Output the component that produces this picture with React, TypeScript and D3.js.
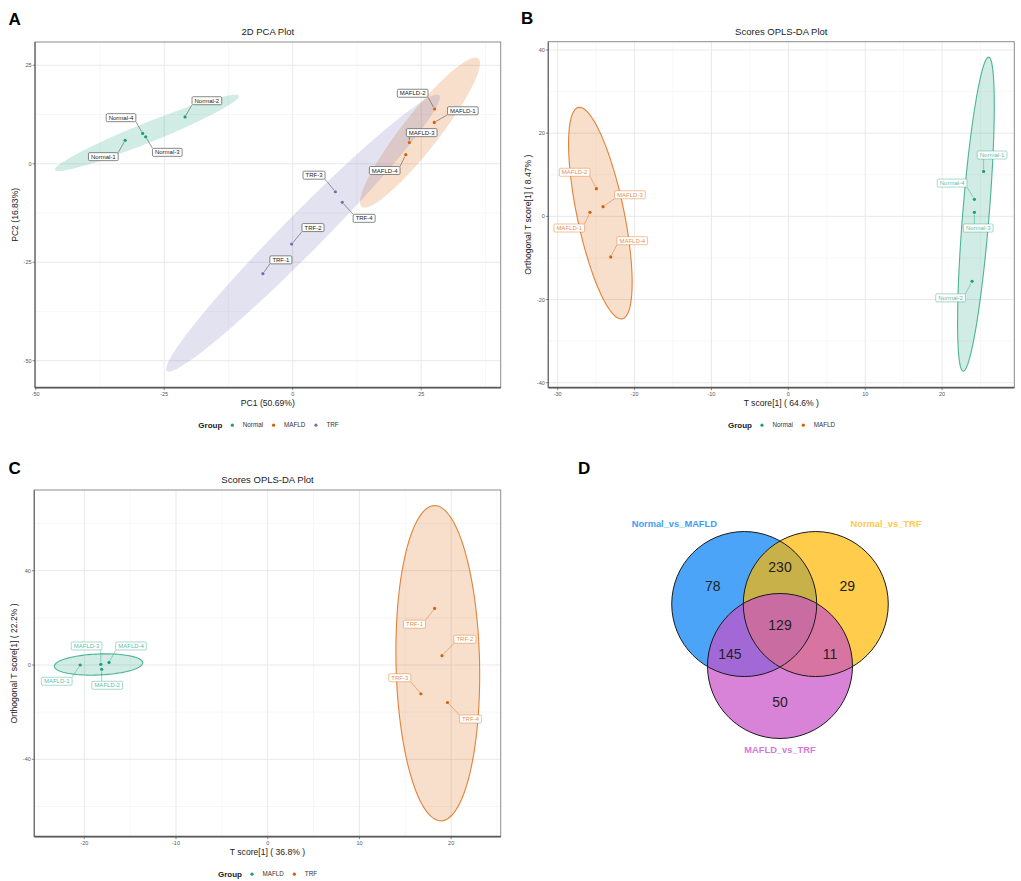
import React from "react";
import * as d3 from "d3";

const FONT = "'Liberation Sans', Arial, Helvetica, sans-serif";
const DARK2 = ["#1B9E77", "#D95F02", "#7570B3"];

// ---------------- Panel A : 2D PCA ----------------
const pcaGroups = ["Normal", "MAFLD", "TRF"];
const pcaSamples = ["Normal-1", "Normal-2", "Normal-3", "Normal-4", "MAFLD-1", "MAFLD-2", "MAFLD-3", "MAFLD-4", "TRF-1", "TRF-2", "TRF-3", "TRF-4"];
const pcaGroupOf = [0, 0, 0, 0, 1, 1, 1, 1, 2, 2, 2, 2];
const pcaPC1 = [-32.6, -20.95, -28.6, -29.2, 27.55, 27.6, 22.7, 22.0, -5.8, -0.2, 8.3, 9.65];
const pcaPC2 = [5.94, 11.9, 6.85, 7.7, 10.5, 13.9, 5.4, 2.3, -27.9, -20.4, -7.1, -9.8];
const pcaLabelX = [-36.85, -16.7, -24.4, -33.4, 33.1, 23.35, 25.1, 17.9, -2.3, 3.95, 4.15, 13.9];
const pcaLabelY = [1.8, 16.0, 2.9, 11.7, 13.45, 17.9, 7.9, -1.7, -24.4, -16.2, -2.9, -13.85];
const pcaEllCX = [-28.35, 24.77, 2.0];
const pcaEllCY = [7.84, 7.92, -17.6];
const pcaEllEX = [-10.45, 36.1, 28.5];
const pcaEllEY = [17.26, 26.75, 17.4];
const pcaEllRatio = [0.1, 0.194, 0.1];
const pcaXTicks = [-50, -25, 0, 25];
const pcaYTicks = [-50, -25, 0, 25];

// ---------------- Panel B : OPLS-DA Normal vs MAFLD ----------------
const oplsBGroups = ["Normal", "MAFLD"];
const oplsBSamples = ["Normal-1", "Normal-2", "Normal-3", "Normal-4", "MAFLD-1", "MAFLD-2", "MAFLD-3", "MAFLD-4"];
const oplsBGroupOf = [0, 0, 0, 0, 1, 1, 1, 1];
const oplsBT = [25.4, 23.9, 24.2, 24.2, -25.8, -24.97, -24.1, -23.1];
const oplsBO = [10.8, -15.6, 0.96, 4.09, 0.96, 6.66, 2.33, -9.76];
const oplsBLabelX = [26.5, 21.1, 24.7, 21.3, -28.5, -27.8, -20.6, -20.3];
const oplsBLabelY = [14.75, -19.6, -2.8, 8.0, -2.8, 10.6, 5.2, -5.85];
const oplsBEllCX = [24.4, -24.45];
const oplsBEllCY = [0.53, 0.77];
const oplsBEllEX = [26.06, -27.3];
const oplsBEllEY = [38.3, 26.2];
const oplsBEllRatio = [0.084, 0.218];
const oplsBXTicks = [-30, -20, -10, 0, 10, 20];
const oplsBYTicks = [-40, -20, 0, 20, 40];

// ---------------- Panel C : OPLS-DA MAFLD vs TRF ----------------
const oplsCGroups = ["MAFLD", "TRF"];
const oplsCSamples = ["MAFLD-1", "MAFLD-2", "MAFLD-3", "MAFLD-4", "TRF-1", "TRF-2", "TRF-3", "TRF-4"];
const oplsCGroupOf = [0, 0, 0, 0, 1, 1, 1, 1];
const oplsCT = [-20.45, -18.1, -18.2, -17.3, 18.2, 19.0, 16.7, 19.6];
const oplsCO = [0, -1.8, 0.3, 1.1, 24.0, 3.95, -12.2, -15.9];
const oplsCLabelX = [-23.0, -17.5, -19.75, -14.9, 16.0, 21.5, 14.4, 22.1];
const oplsCLabelY = [-6.9, -8.6, 8.06, 8.06, 17.3, 10.9, -5.4, -22.9];
const oplsCEllCX = [-18.45, 18.54];
const oplsCEllCY = [0.21, 0.76];
const oplsCEllEX = [-13.63, 18.17];
const oplsCEllEY = [0.98, 67.6];
const oplsCEllRatio = [0.238, 0.265];
const oplsCXTicks = [-20, -10, 0, 10, 20];
const oplsCYTicks = [-40, 0, 40];

// ---------------- Panel D : Venn ----------------
const vennSets = ["Normal_vs_MAFLD", "Normal_vs_TRF", "MAFLD_vs_TRF"];
const vennOnly = [78, 29, 50];
const vennPairs = [230, 145, 11]; // (0,1), (0,2), (1,2)
const vennAll = 129;

let _ctx: CanvasRenderingContext2D | null = null;
function measure(text: string, size: number, weight = "normal") {
  if (!_ctx) _ctx = document.createElement("canvas").getContext("2d");
  if (!_ctx) return text.length * size * 0.55;
  _ctx.font = `${weight} ${size}px ${FONT}`;
  return _ctx.measureText(text).width;
}

function minorTicks(ticks: number[], dom: number[]) {
  const step = ticks[1] - ticks[0];
  const out: number[] = [];
  for (let v = ticks[0] - step / 2; v <= dom[1]; v += step) if (v >= dom[0]) out.push(v);
  return out;
}

type Cfg = {
  box: [number, number, number, number];
  xDomain: [number, number];
  yDomain: [number, number];
  xTicks: number[];
  yTicks: number[];
  title: string;
  xTitle: string;
  yTitle: string;
  groups: string[];
  colors: string[];
  samples: string[];
  groupOf: number[];
  xs: number[];
  ys: number[];
  lx: number[];
  ly: number[];
  ell: { cx: number[]; cy: number[]; ex: number[]; ey: number[]; r: number[] };
  colored: boolean;
  legendX: number;
};

function ScorePlot({ c }: { c: Cfg }) {
  const [L, T, R, B] = c.box;
  const x = d3.scaleLinear().domain(c.xDomain).range([L, R]);
  const y = d3.scaleLinear().domain(c.yDomain).range([B, T]);
  const xMinor = minorTicks(c.xTicks, c.xDomain);
  const yMinor = minorTicks(c.yTicks, c.yDomain);
  const line = d3.line();

  const ellipses = c.ell.cx.map((_, g) => {
    const cx = x(c.ell.cx[g]), cy = y(c.ell.cy[g]);
    const ux = x(c.ell.ex[g]) - cx, uy = y(c.ell.ey[g]) - cy;
    const vx = -uy * c.ell.r[g], vy = ux * c.ell.r[g];
    const pts: [number, number][] = d3.range(0, 121).map((i) => {
      const t = (i / 120) * Math.PI * 2;
      return [cx + ux * Math.cos(t) + vx * Math.sin(t), cy + uy * Math.cos(t) + vy * Math.sin(t)];
    });
    return line(pts) + "Z";
  });

  const fs = 6;
  const labels = c.samples.map((s, i) => {
    const w = measure(s, fs) + 5;
    const h = 8;
    const bx = x(c.lx[i]) - w / 2, by = y(c.ly[i]) - h / 2;
    const px = x(c.xs[i]), py = y(c.ys[i]);
    const ex = Math.max(bx, Math.min(bx + w, px));
    const ey = Math.max(by, Math.min(by + h, py));
    const dx = ex - px, dy = ey - py;
    const d = Math.hypot(dx, dy);
    const sx = d > 0 ? px + (dx / d) * 2.2 : px;
    const sy = d > 0 ? py + (dy / d) * 2.2 : py;
    return { s, w, h, bx, by, px, py, ex, ey, sx, sy, d, g: c.groupOf[i] };
  });

  // legend layout
  const legY = B + 37.5;
  const legItems: { dot: number; tx: number; g: number }[] = [];
  let cur = c.legendX + measure("Group", 8, "bold") + 10;
  c.groups.forEach((g, i) => {
    legItems.push({ dot: cur, tx: cur + 10.5, g: i });
    cur = cur + 10.5 + measure(g, 6.3) + 10.5;
  });

  return (
    <g fontFamily={FONT}>
      <rect x={L} y={T} width={R - L} height={B - T} fill="#FFFFFF" />
      {xMinor.map((v) => (
        <line key={"xm" + v} x1={x(v)} x2={x(v)} y1={T} y2={B} stroke="#F2F2F2" strokeWidth={0.6} />
      ))}
      {yMinor.map((v) => (
        <line key={"ym" + v} x1={L} x2={R} y1={y(v)} y2={y(v)} stroke="#F2F2F2" strokeWidth={0.6} />
      ))}
      {c.xTicks.map((v) => (
        <line key={"xg" + v} x1={x(v)} x2={x(v)} y1={T} y2={B} stroke="#E6E6E6" strokeWidth={0.9} />
      ))}
      {c.yTicks.map((v) => (
        <line key={"yg" + v} x1={L} x2={R} y1={y(v)} y2={y(v)} stroke="#E6E6E6" strokeWidth={0.9} />
      ))}
      {ellipses.map((p, g) => (
        <path
          key={"e" + g}
          d={p}
          fill={c.colors[g]}
          fillOpacity={0.2}
          stroke={c.colored ? c.colors[g] : "none"}
          strokeOpacity={0.75}
          strokeWidth={1.1}
        />
      ))}
      {labels.map((l, i) =>
        l.d > 2.5 ? (
          <line
            key={"seg" + i}
            x1={l.sx}
            y1={l.sy}
            x2={l.ex}
            y2={l.ey}
            stroke={c.colored ? c.colors[l.g] : "#555555"}
            strokeOpacity={c.colored ? 0.7 : 1}
            strokeWidth={0.6}
          />
        ) : null
      )}
      {labels.map((l, i) => (
        <circle key={"pt" + i} cx={l.px} cy={l.py} r={1.6} fill={c.colors[l.g]} />
      ))}
      {labels.map((l, i) => (
        <g key={"lb" + i}>
          <rect
            x={l.bx}
            y={l.by}
            width={l.w}
            height={l.h}
            rx={1.2}
            fill="#FFFFFF"
            stroke={c.colored ? c.colors[l.g] : "#555555"}
            strokeOpacity={c.colored ? 0.55 : 1}
            strokeWidth={0.7}
          />
          <text
            x={l.bx + l.w / 2}
            y={l.by + l.h / 2 + 2.1}
            textAnchor="middle"
            fontSize={fs}
            fill={c.colored ? c.colors[l.g] : "#222222"}
            fillOpacity={c.colored ? 0.75 : 1}
          >
            {l.s}
          </text>
        </g>
      ))}
      {/* frame */}
      <rect x={L} y={T} width={R - L} height={B - T} fill="none" stroke="#8C8C8C" strokeWidth={1} />
      <line x1={L} x2={L} y1={T} y2={B} stroke="#6E6E6E" strokeWidth={1.3} />
      <line x1={L} x2={R} y1={B} y2={B} stroke="#5A5A5A" strokeWidth={1.7} />
      {/* ticks */}
      {c.xTicks.map((v) => (
        <g key={"xt" + v}>
          <line x1={x(v)} x2={x(v)} y1={B} y2={B + 2.5} stroke="#444" strokeWidth={0.6} />
          <text x={x(v)} y={B + 8} textAnchor="middle" fontSize={5.5} fill="#555555">
            {v}
          </text>
        </g>
      ))}
      {c.yTicks.map((v) => (
        <g key={"yt" + v}>
          <line x1={L - 2.5} x2={L} y1={y(v)} y2={y(v)} stroke="#444" strokeWidth={0.6} />
          <text x={L - 3.5} y={y(v) + 2} textAnchor="end" fontSize={5.5} fill="#555555">
            {v}
          </text>
        </g>
      ))}
      {/* titles */}
      <text x={(L + R) / 2} y={T - 7} textAnchor="middle" fontSize={9.5} fill="#222">
        {c.title}
      </text>
      <text x={(L + R) / 2} y={B + 18} textAnchor="middle" fontSize={8.6} fill="#222">
        {c.xTitle}
      </text>
      <text
        transform={`translate(${L - 17},${(T + B) / 2}) rotate(-90)`}
        textAnchor="middle"
        fontSize={8.6}
        fill="#222"
      >
        {c.yTitle}
      </text>
      {/* legend */}
      <text x={c.legendX} y={legY + 3} fontSize={8} fontWeight="bold" fill="#222">
        Group
      </text>
      {legItems.map((it) => (
        <g key={"lg" + it.g}>
          <circle cx={it.dot} cy={legY} r={1.6} fill={c.colors[it.g]} />
          <text x={it.tx} y={legY + 2.2} fontSize={6.3} fill="#333">
            {c.groups[it.g]}
          </text>
        </g>
      ))}
    </g>
  );
}

function Venn() {
  const cx = 780, cy = 624.7, d = 41.3, r = 72.5;
  const angles = [210, 330, 90].map((a) => (a * Math.PI) / 180);
  const centers = angles.map((a) => [cx + d * Math.cos(a), cy + d * Math.sin(a)]);
  const fills = ["#007EF5", "#FFB600", "#C74FC7"];
  const labelColors = ["#3E9DF6", "#FFC94A", "#D47AD6"];
  const pairIdx = [[0, 1], [0, 2], [1, 2]];
  const labelPos = [
    [674.3, 523.3],
    [886, 523.3],
    [780, 750],
  ];
  return (
    <g fontFamily={FONT}>
      {centers.map((c, i) => (
        <circle key={"f" + i} cx={c[0]} cy={c[1]} r={r} fill={fills[i]} fillOpacity={0.7} />
      ))}
      {centers.map((c, i) => (
        <circle key={"s" + i} cx={c[0]} cy={c[1]} r={r} fill="none" stroke="#1A1A1A" strokeWidth={1} />
      ))}
      {vennOnly.map((v, i) => (
        <text
          key={"o" + i}
          x={cx + 1.88 * d * Math.cos(angles[i])}
          y={cy + 1.88 * d * Math.sin(angles[i]) + 5}
          textAnchor="middle"
          fontSize={14}
          fill="#222"
        >
          {v}
        </text>
      ))}
      {vennPairs.map((v, k) => {
        const third = [0, 1, 2].find((j) => !pairIdx[k].includes(j)) as number;
        const a = angles[third] + Math.PI;
        return (
          <text
            key={"p" + k}
            x={cx + 1.4 * d * Math.cos(a)}
            y={cy + 1.4 * d * Math.sin(a) + 5}
            textAnchor="middle"
            fontSize={14}
            fill="#222"
          >
            {v}
          </text>
        );
      })}
      <text x={cx} y={cy + 5} textAnchor="middle" fontSize={14} fill="#222">
        {vennAll}
      </text>
      {vennSets.map((s, i) => (
        <text
          key={"n" + i}
          x={labelPos[i][0]}
          y={labelPos[i][1] + 3.3}
          textAnchor="middle"
          fontSize={9.3}
          fontWeight="bold"
          fill={labelColors[i]}
        >
          {s}
        </text>
      ))}
    </g>
  );
}

export default function App() {
  const cfgA: Cfg = {
    box: [35, 42, 500.7, 387.7],
    xDomain: [-50.14, 40.47],
    yDomain: [-56.85, 30.91],
    xTicks: pcaXTicks,
    yTicks: pcaYTicks,
    title: "2D PCA Plot",
    xTitle: "PC1 (50.69%)",
    yTitle: "PC2 (16.83%)",
    groups: pcaGroups,
    colors: DARK2,
    samples: pcaSamples,
    groupOf: pcaGroupOf,
    xs: pcaPC1,
    ys: pcaPC2,
    lx: pcaLabelX,
    ly: pcaLabelY,
    ell: { cx: pcaEllCX, cy: pcaEllCY, ex: pcaEllEX, ey: pcaEllEY, r: pcaEllRatio },
    colored: false,
    legendX: 198.3,
  };
  const cfgB: Cfg = {
    box: [548.3, 41.7, 1014.3, 387.7],
    xDomain: [-31.22, 29.39],
    yDomain: [-41.2, 42.0],
    xTicks: oplsBXTicks,
    yTicks: oplsBYTicks,
    title: "Scores OPLS-DA Plot",
    xTitle: "T score[1] ( 64.6% )",
    yTitle: "Orthogonal T score[1] ( 8.47% )",
    groups: oplsBGroups,
    colors: [DARK2[0], DARK2[1]],
    samples: oplsBSamples,
    groupOf: oplsBGroupOf,
    xs: oplsBT,
    ys: oplsBO,
    lx: oplsBLabelX,
    ly: oplsBLabelY,
    ell: { cx: oplsBEllCX, cy: oplsBEllCY, ex: oplsBEllEX, ey: oplsBEllEY, r: oplsBEllRatio },
    colored: true,
    legendX: 728,
  };
  const cfgC: Cfg = {
    box: [34.3, 490, 500.7, 836.7],
    xDomain: [-25.45, 25.4],
    yDomain: [-72.8, 74.2],
    xTicks: oplsCXTicks,
    yTicks: oplsCYTicks,
    title: "Scores OPLS-DA Plot",
    xTitle: "T score[1] ( 36.8% )",
    yTitle: "Orthogonal T score[1] ( 22.2% )",
    groups: oplsCGroups,
    colors: [DARK2[0], DARK2[1]],
    samples: oplsCSamples,
    groupOf: oplsCGroupOf,
    xs: oplsCT,
    ys: oplsCO,
    lx: oplsCLabelX,
    ly: oplsCLabelY,
    ell: { cx: oplsCEllCX, cy: oplsCEllCY, ex: oplsCEllEX, ey: oplsCEllEY, r: oplsCEllRatio },
    colored: true,
    legendX: 218,
  };
  return (
    <svg
      width={1021}
      height={881}
      style={{ position: "absolute", left: 0, top: 0, background: "#FFFFFF" }}
      fontFamily={FONT}
    >
      <rect width={1021} height={881} fill="#FFFFFF" />
      <ScorePlot c={cfgA} />
      <ScorePlot c={cfgB} />
      <ScorePlot c={cfgC} />
      <Venn />
      <text x={8.5} y={24.7} fontSize={17} fontWeight="bold" fill="#000">A</text>
      <text x={521} y={24.3} fontSize={17} fontWeight="bold" fill="#000">B</text>
      <text x={8.5} y={474.3} fontSize={17} fontWeight="bold" fill="#000">C</text>
      <text x={578} y={474} fontSize={17} fontWeight="bold" fill="#000">D</text>
    </svg>
  );
}
